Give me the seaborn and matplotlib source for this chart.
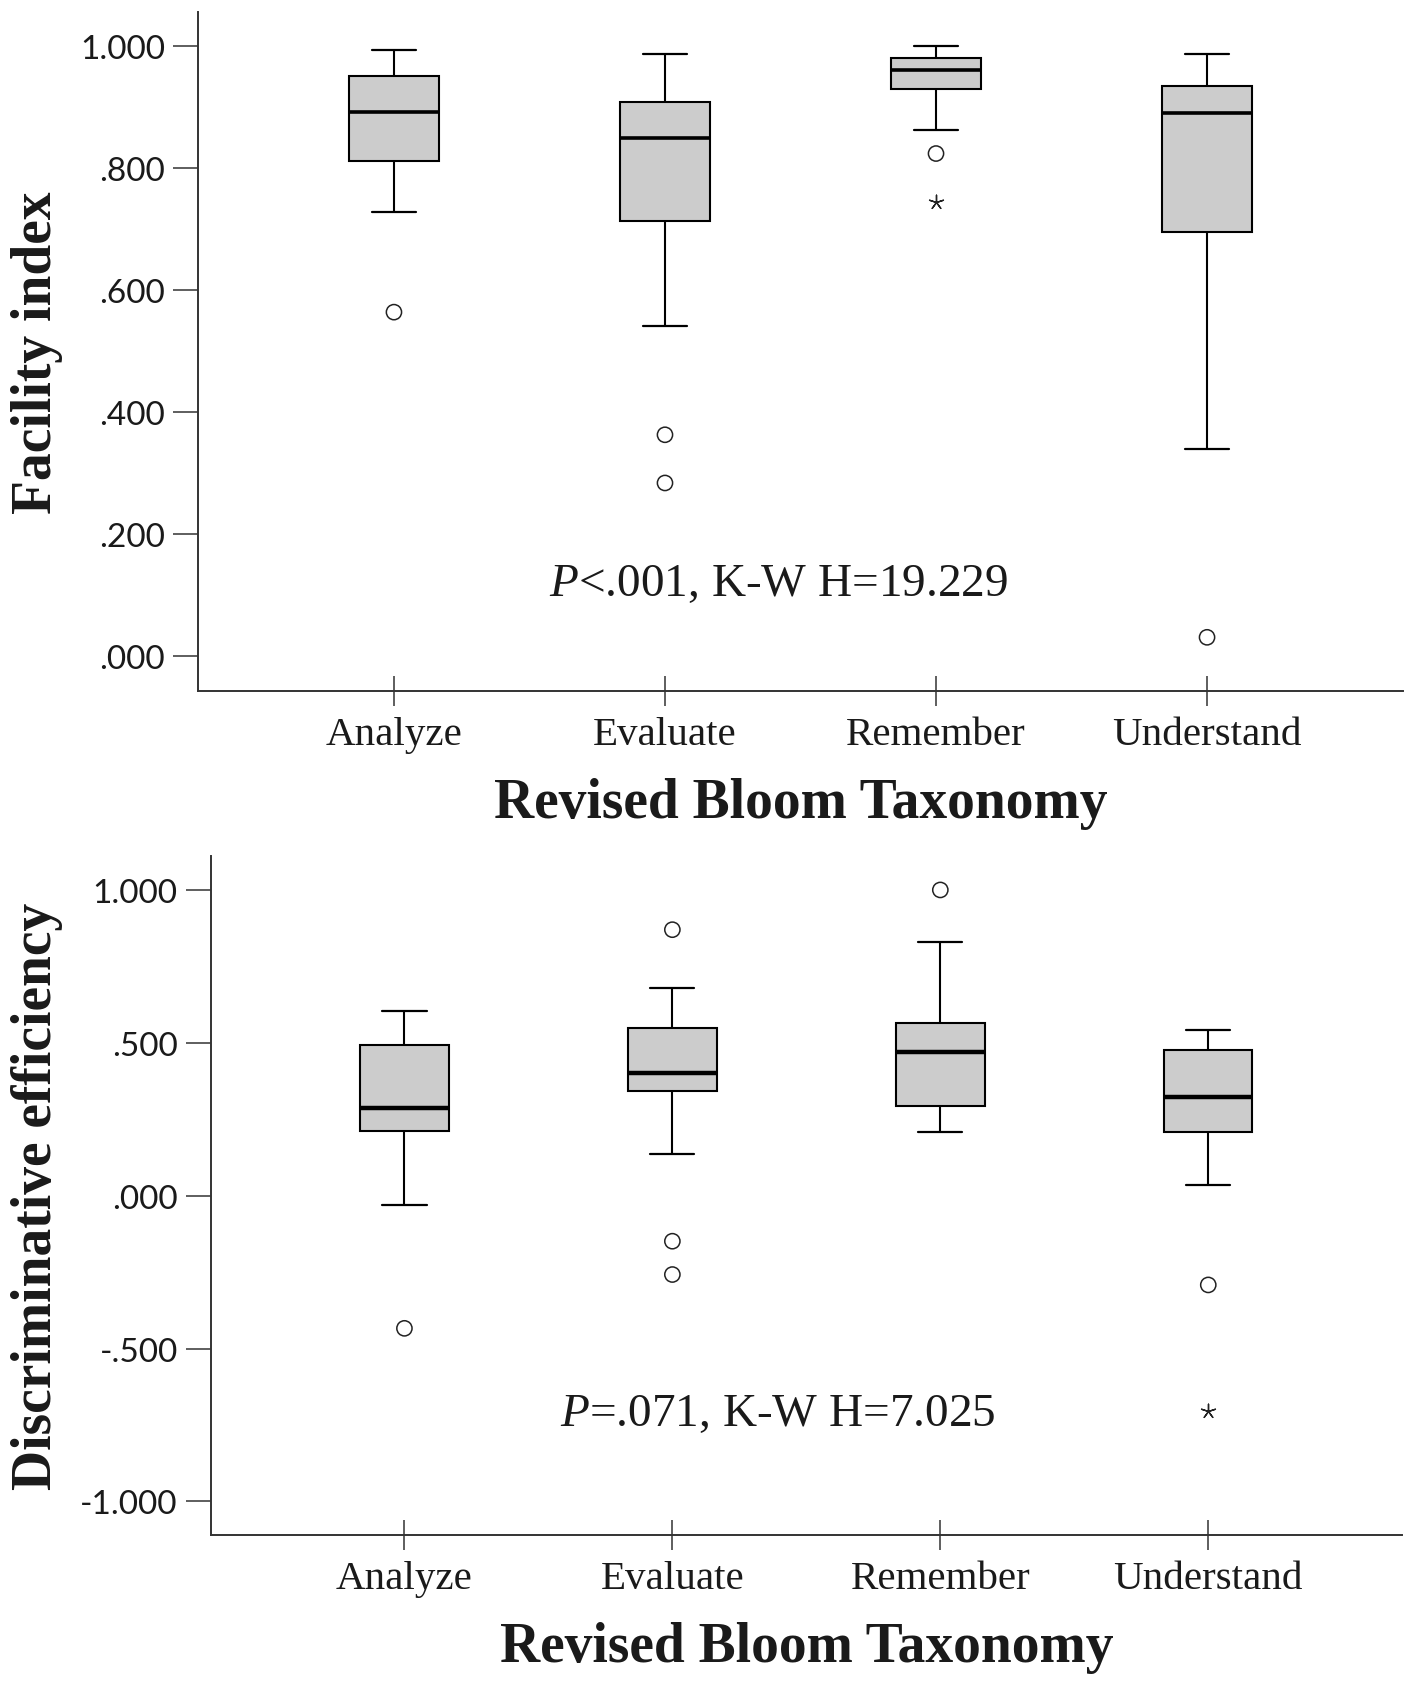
import numpy as np
import pandas as pd
import matplotlib
matplotlib.use("Agg")
import matplotlib.pyplot as plt
import seaborn as sns

# ---------------- data ----------------
levels = ["Analyze", "Evaluate", "Remember", "Understand"]

# Facility index per item, by Bloom level
fac_analyze = [0.564, 0.728, 0.780, 0.811, 0.840, 0.870, 0.892, 0.910, 0.930, 0.951, 0.970, 0.980, 0.993]
fac_evaluate = [0.284, 0.363, 0.542, 0.713, 0.760, 0.810, 0.850, 0.870, 0.890, 0.908, 0.940, 0.960, 0.987]
fac_remember = [0.745, 0.824, 0.863, 0.929, 0.940, 0.950, 0.961, 0.970, 0.975, 0.980, 0.990, 0.995, 1.000]
fac_understand = [0.031, 0.340, 0.550, 0.695, 0.760, 0.830, 0.890, 0.910, 0.925, 0.935, 0.950, 0.970, 0.987]

# Discriminative efficiency per item, by Bloom level
dis_analyze = [-0.434, -0.030, 0.150, 0.213, 0.240, 0.270, 0.286, 0.350, 0.420, 0.494, 0.530, 0.570, 0.603]
dis_evaluate = [-0.258, -0.149, 0.136, 0.341, 0.360, 0.380, 0.401, 0.450, 0.500, 0.548, 0.600, 0.679, 0.870]
dis_remember = [0.209, 0.240, 0.270, 0.292, 0.350, 0.420, 0.469, 0.500, 0.530, 0.565, 0.650, 0.829, 1.000]
dis_understand = [-0.704, -0.292, 0.036, 0.207, 0.250, 0.290, 0.324, 0.380, 0.430, 0.476, 0.500, 0.520, 0.543]

fac_ticks = [0.0, 0.2, 0.4, 0.6, 0.8, 1.0]
fac_ticklabels = [".000", ".200", ".400", ".600", ".800", "1.000"]
dis_ticks = [-1.0, -0.5, 0.0, 0.5, 1.0]
dis_ticklabels = ["-1.000", "-.500", ".000", ".500", "1.000"]

fac_note = r"$P$<.001, K-W H=19.229"
dis_note = r"$P$=.071, K-W H=7.025"
xlabel = "Revised Bloom Taxonomy"

# ---------------- style ----------------
sns.set_style("white")
plt.rcParams["font.family"] = ["Liberation Serif", "DejaVu Serif"]
plt.rcParams["mathtext.fontset"] = "custom"
plt.rcParams["mathtext.rm"] = "Liberation Serif"
plt.rcParams["mathtext.it"] = "Liberation Serif:italic"
plt.rcParams["xtick.bottom"] = True
plt.rcParams["ytick.left"] = True

W, H = 1417, 1683
DPI = 100
fig = plt.figure(figsize=(W / DPI, H / DPI), dpi=DPI)
fig.patch.set_facecolor("white")

def px_axes(l, t, r, b):
    return fig.add_axes([l / W, 1 - b / H, (r - l) / W, (b - t) / H])

ax1 = px_axes(198, 13, 1403, 692)
ax2 = px_axes(210.7, 856.7, 1402, 1536)

ink = "#1a1a1a"

def draw_panel(ax, series, ylim, ticks, ticklabels, ylabel, note, note_xy, ylab_x, med_lw):
    df = pd.DataFrame({
        "level": np.repeat(levels, [len(s) for s in series]),
        "value": np.concatenate(series),
    })
    sns.boxplot(data=df, x="level", y="value", order=levels, ax=ax,
                width=0.33, color="#cccccc", saturation=1,
                linecolor="black", linewidth=1.5, showfliers=False,
                medianprops=dict(color="black", linewidth=med_lw),
                whiskerprops=dict(color="black", linewidth=1.5),
                capprops=dict(color="black", linewidth=1.6))
    # outliers: mild (1.5-3 IQR) circles, extreme (>3 IQR) asterisks
    for i, s in enumerate(series):
        arr = np.asarray(s)
        q1, q3 = np.percentile(arr, [25, 75])
        iqr = q3 - q1
        dev = np.maximum(q1 - arr, arr - q3)
        mild = arr[(dev > 1.5 * iqr) & (dev <= 3 * iqr)]
        extreme = arr[dev > 3 * iqr]
        ax.scatter(np.full(len(mild), i), mild, s=120, marker="o",
                   facecolors="none", edgecolors="#222222", linewidths=1.1, zorder=5)
        ax.scatter(np.full(len(extreme), i), extreme, s=110, marker=(5, 2, 0),
                   color="#222222", linewidths=1.0, zorder=5)
    ax.set_xlim(-0.723, 3.723)
    ax.set_ylim(*ylim)
    ax.set_yticks(ticks)
    ax.set_yticklabels(ticklabels, fontfamily="Lato", fontsize=24, color=ink)
    ax.set_xticks(range(len(levels)))
    ax.set_xticklabels(levels, fontsize=29.5, color=ink)
    ax.tick_params(axis="x", which="major", bottom=True, direction="inout",
                   length=21, width=1.1, color="#333333", pad=7.5)
    ax.tick_params(axis="y", which="major", left=True, direction="out",
                   length=18, width=1.1, color="#333333", pad=5.8)
    for side in ["top", "right"]:
        ax.spines[side].set_visible(False)
    for side in ["left", "bottom"]:
        ax.spines[side].set_color("#333333")
        ax.spines[side].set_linewidth(1.4)
    ax.set_xlabel(xlabel, fontsize=40, fontweight="bold", color=ink, va="top")
    ax.xaxis.set_label_coords(0.5, -0.127)
    ax.set_ylabel(ylabel, fontsize=40, fontweight="bold", color=ink, va="center")
    ax.yaxis.set_label_coords(ylab_x, 0.5)
    ax.text(note_xy[0], note_xy[1], note, fontsize=34, color=ink,
            ha="center", va="baseline")
    ax.set_facecolor("white")
    ax.grid(False)

draw_panel(ax1, [fac_analyze, fac_evaluate, fac_remember, fac_understand],
           (-0.057, 1.056), fac_ticks, fac_ticklabels, "Facility index",
           fac_note, (1.42, 0.100), -0.1336, 2.6)
draw_panel(ax2, [dis_analyze, dis_evaluate, dis_remember, dis_understand],
           (-1.11, 1.112), dis_ticks, dis_ticklabels, "Discriminative efficiency",
           dis_note, (1.394, -0.750), -0.1458, 3.2)

fig.savefig("out.png", dpi=DPI, facecolor="white")
